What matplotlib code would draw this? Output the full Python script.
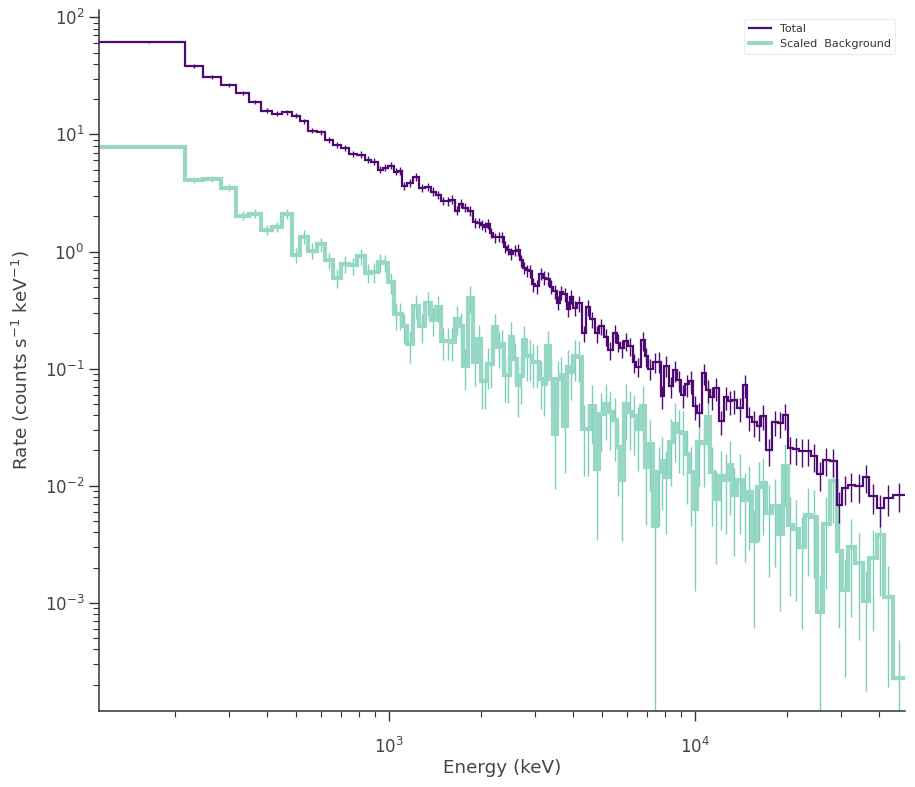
import numpy as np
import matplotlib
matplotlib.use("Agg")
import matplotlib.pyplot as plt
import matplotlib.lines as mlines

# channel edges (keV)
edges = [113, 216, 247, 283, 317, 350, 383, 416, 448, 483,
         513, 545, 583, 620, 658, 699, 742, 788, 837, 876,
         923, 959, 995, 1041, 1073, 1106, 1148, 1201, 1257, 1315,
         1375, 1428, 1483, 1540, 1587, 1648, 1699, 1750, 1818, 1887,
         1945, 2004, 2050, 2097, 2145, 2194, 2261, 2330, 2383, 2437,
         2493, 2550, 2628, 2688, 2749, 2812, 2876, 2942, 3009, 3101,
         3196, 3269, 3369, 3446, 3551, 3632, 3715, 3829, 3916, 4005,
         4128, 4286, 4417, 4552, 4726, 4870, 5057, 5211, 5410, 5576,
         5703, 5878, 6058, 6290, 6434, 6680, 6884, 7042, 7311, 7535,
         7766, 7943, 8247, 8500, 8760, 9028, 9305, 9589, 9883, 10182,
         10573, 10897, 11227, 11571, 12013, 12475, 12857, 13248, 13757, 14392,
         14830, 15400, 15990, 16482, 17113, 17902, 18729, 19448, 20193, 20969,
         21938, 22953, 24013, 25119, 26279, 27703, 29203, 30320, 31720, 33434,
         35507, 37146, 39469, 41591, 44495, 48718]

# total rate (counts/s/keV)
total = [61, 38.6, 31.1, 26.6, 22.7, 19.0, 16.0, 15.0, 15.4, 14.5,
         12.9, 10.8, 10.4, 9.03, 8.18, 7.71, 6.86, 6.73, 6.10, 5.86,
         5.01, 5.21, 5.42, 4.81, 4.90, 3.66, 3.88, 4.36, 3.52, 3.59,
         3.25, 3.06, 2.72, 2.70, 2.78, 2.24, 2.57, 2.37, 2.24, 1.77,
         1.75, 1.70, 1.63, 1.73, 1.45, 1.32, 1.34, 1.33, 1.10, 1.04,
         0.96, 1.02, 1.04, 0.84, 0.73, 0.69, 0.68, 0.523, 0.503, 0.649,
         0.600, 0.588, 0.50, 0.456, 0.367, 0.447, 0.430, 0.326, 0.413, 0.33,
         0.360, 0.200, 0.333, 0.263, 0.20, 0.229, 0.188, 0.143, 0.20, 0.167,
         0.149, 0.171, 0.155, 0.113, 0.104, 0.174, 0.127, 0.100, 0.113, 0.115,
         0.058, 0.106, 0.0705, 0.0966, 0.0793, 0.0591, 0.0733, 0.0778, 0.0476, 0.0415,
         0.0910, 0.0652, 0.0568, 0.0678, 0.0354, 0.057, 0.0525, 0.0535, 0.0457, 0.0719,
         0.0383, 0.0348, 0.0321, 0.0391, 0.0200, 0.035, 0.0341, 0.0399, 0.0208, 0.0204,
         0.0197, 0.0198, 0.0178, 0.0125, 0.0165, 0.0162, 0.0068, 0.0095, 0.0101, 0.0099,
         0.0118, 0.0081, 0.0064, 0.0078, 0.0083]

total_relerr = [0.008, 0.04, 0.04, 0.04, 0.045, 0.045, 0.05, 0.05, 0.05, 0.05,
                0.055, 0.055, 0.055, 0.06, 0.06, 0.06, 0.06, 0.065, 0.065, 0.065,
                0.07, 0.07, 0.07, 0.07, 0.075, 0.075, 0.08, 0.075, 0.08, 0.08,
                0.085, 0.08, 0.085, 0.09, 0.085, 0.09, 0.09, 0.09, 0.095, 0.095,
                0.1, 0.1, 0.1, 0.1, 0.105, 0.1, 0.105, 0.11, 0.11, 0.11,
                0.115, 0.11, 0.115, 0.12, 0.12, 0.12, 0.125, 0.13, 0.13, 0.125,
                0.13, 0.135, 0.135, 0.14, 0.14, 0.14, 0.145, 0.15, 0.145, 0.15,
                0.15, 0.16, 0.155, 0.16, 0.165, 0.16, 0.17, 0.17, 0.17, 0.175,
                0.18, 0.175, 0.18, 0.19, 0.19, 0.185, 0.19, 0.2, 0.195, 0.2,
                0.22, 0.2, 0.21, 0.205, 0.21, 0.22, 0.215, 0.215, 0.23, 0.23,
                0.21, 0.22, 0.225, 0.22, 0.24, 0.225, 0.23, 0.23, 0.235, 0.22,
                0.24, 0.245, 0.245, 0.24, 0.26, 0.245, 0.25, 0.245, 0.26, 0.26,
                0.26, 0.26, 0.265, 0.28, 0.27, 0.27, 0.3, 0.28, 0.28, 0.28,
                0.27, 0.29, 0.3, 0.29, 0.28]

# scaled background rate (counts/s/keV)
background = [7.87, 4.11, 4.20, 3.52, 2.03, 2.11, 1.54, 1.63, 2.10, 0.94,
              1.34, 1.02, 1.15, 0.84, 0.600, 0.79, 0.76, 0.91, 0.66, 0.665,
              0.81, 0.80, 0.544, 0.290, 0.29, 0.229, 0.161, 0.346, 0.229, 0.367,
              0.258, 0.333, 0.171, 0.171, 0.17, 0.268, 0.229, 0.106, 0.405, 0.115,
              0.178, 0.078, 0.078, 0.109, 0.11, 0.225, 0.152, 0.161, 0.089, 0.088,
              0.185, 0.120, 0.072, 0.086, 0.174, 0.127, 0.127, 0.115, 0.113, 0.081,
              0.0733, 0.155, 0.082, 0.0275, 0.081, 0.089, 0.0321, 0.104, 0.0929, 0.127,
              0.125, 0.0303, 0.0303, 0.0476, 0.0138, 0.0407, 0.0495, 0.0423, 0.0361, 0.0213,
              0.0113, 0.0495, 0.0423, 0.0391, 0.0303, 0.0476, 0.0144, 0.0226, 0.0045, 0.0130,
              0.0162, 0.0118, 0.0235, 0.0334, 0.0286, 0.028, 0.0185, 0.0130, 0.0063, 0.0235,
              0.0233, 0.0383, 0.0130, 0.0077, 0.0120, 0.0113, 0.0149, 0.0083, 0.0113, 0.0075,
              0.0088, 0.0034, 0.0097, 0.0105, 0.0059, 0.0067, 0.0039, 0.0146, 0.0046, 0.0043,
              0.0030, 0.0056, 0.0054, 0.00083, 0.0047, 0.0109, 0.00275, 0.00128, 0.0030, 0.0022,
              0.00103, 0.0024, 0.0038, 0.00112, 0.00023]

background_relerr = [0.01, 0.06, 0.06, 0.07, 0.09, 0.09, 0.1, 0.1, 0.1, 0.15,
                     0.13, 0.15, 0.14, 0.16, 0.19, 0.17, 0.17, 0.16, 0.19, 0.19,
                     0.17, 0.17, 0.21, 0.26, 0.26, 0.28, 0.3, 0.24, 0.28, 0.24,
                     0.27, 0.25, 0.31, 0.31, 0.32, 0.28, 0.3, 0.38, 0.26, 0.38,
                     0.32, 0.42, 0.42, 0.38, 0.38, 0.3, 0.34, 0.34, 0.42, 0.42,
                     0.34, 0.38, 0.46, 0.42, 0.34, 0.38, 0.38, 0.4, 0.4, 0.44,
                     0.46, 0.36, 0.44, 0.66, 0.44, 0.42, 0.6, 0.4, 0.42, 0.38,
                     0.38, 0.6, 0.6, 0.52, 0.75, 0.52, 0.5, 0.52, 0.55, 0.62,
                     0.7, 0.5, 0.52, 0.53, 0.56, 0.5, 0.68, 0.6, 1.2, 0.65,
                     0.62, 0.67, 0.58, 0.52, 0.55, 0.56, 0.62, 0.65, 0.8, 0.58,
                     0.58, 0.5, 0.65, 0.72, 0.65, 0.66, 0.62, 0.7, 0.66, 0.7,
                     0.68, 0.82, 0.65, 0.64, 0.72, 0.7, 0.78, 0.55, 0.75, 0.76,
                     0.8, 0.7, 0.7, 1.1, 0.72, 0.56, 0.78, 0.82, 0.75, 0.78,
                     0.83, 0.76, 0.7, 0.83, 1.1]

edges = np.array(edges, dtype=float)
total = np.array(total)
background = np.array(background)
centers = 0.5 * (edges[:-1] + edges[1:])

purple = "#4e0a72"
teal_line = "#96d7c6"
teal_err = "#7ccfb8"
grey = "#444444"

fig = plt.figure(figsize=(9.15, 7.87), dpi=100)
ax = fig.add_axes([0.108, 0.097, 0.881, 0.890])

# background first so the total sits on top
ax.errorbar(centers, background, yerr=background * np.array(background_relerr),
            fmt="none", ecolor=teal_err, elinewidth=1.0, zorder=1)
ax.stairs(background, edges, baseline=None, color=teal_line, lw=3.0, zorder=2)
ax.errorbar(centers, total, yerr=total * np.array(total_relerr),
            fmt="none", ecolor=purple, elinewidth=1.0, zorder=3)
ax.stairs(total, edges, baseline=None, color=purple, lw=1.6, zorder=4)

ax.set_xscale("log")
ax.set_yscale("log")
ax.set_xlim(edges[0], edges[-1])
ax.set_ylim(1.2e-4, 115)

for side in ["top", "right"]:
    ax.spines[side].set_visible(False)
for side in ["left", "bottom"]:
    ax.spines[side].set_color("#333333")
    ax.spines[side].set_linewidth(1.1)

ax.tick_params(which="major", direction="out", length=7, width=1.0,
               colors="#333333", labelcolor=grey, labelsize=12)
ax.tick_params(axis="x", which="major", pad=12)
ax.tick_params(which="minor", direction="out", length=4, width=0.8,
               colors="#333333")

ax.set_xlabel("Energy (keV)", fontsize=13.2, color=grey, labelpad=1)
ax.set_ylabel(r"Rate (counts s$^{-1}$ keV$^{-1}$)", fontsize=13.2, color=grey,
              labelpad=9)

h_total = mlines.Line2D([], [], color=purple, lw=1.6)
h_bg = mlines.Line2D([], [], color=teal_line, lw=3.0)
leg = ax.legend([h_total, h_bg], ["Total", "Scaled  Background"], loc="upper right",
                fontsize=8, frameon=True, fancybox=True, framealpha=1,
                edgecolor="#eeeeee", bbox_to_anchor=(0.995, 0.995))
for t in leg.get_texts():
    t.set_color("#333333")

fig.savefig("out.png", dpi=100)
